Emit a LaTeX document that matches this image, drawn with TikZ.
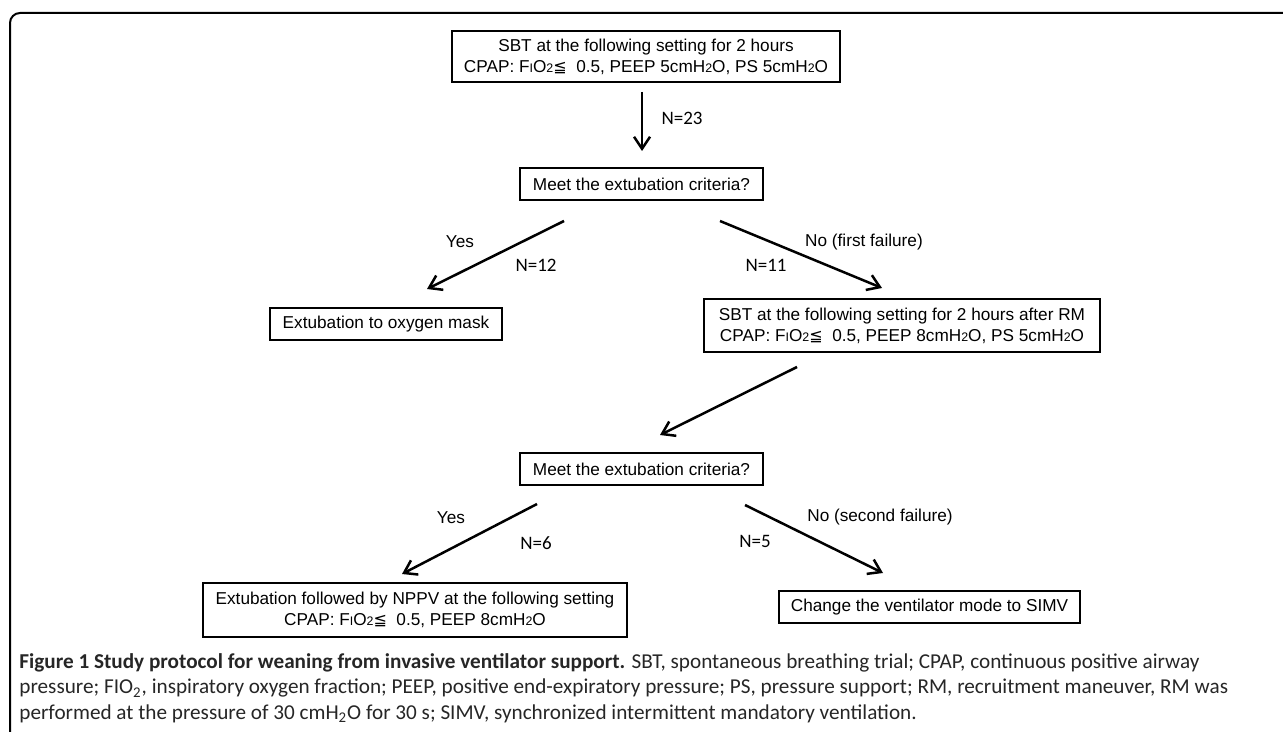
\documentclass[tikz,border=0pt]{standalone}
\usepackage{fontspec}
\setmainfont{Liberation Sans}
\newfontfamily\capfont{Carlito}
\newfontfamily\numfont{Carlito}
\newfontfamily\symfont{DejaVu Sans}
\usetikzlibrary{arrows.meta}

\newcommand{\smc}[1]{{\fontsize{6.2}{6}\selectfont #1}}
\newcommand{\fio}{F\smc{I}O\smc{2}}
\newcommand{\htwo}{H\smc{2}O}
\newcommand{\lteq}{{\symfont\fontsize{8}{8}\selectfont ≦}}

\tikzset{
  box/.style={draw, line width=1pt, inner sep=0pt, align=center,
              font=\fontsize{8.6}{10.5}\selectfont},
  arr/.style={line width=1.25pt, -{Straight Barb[length=6pt,width=8pt]}},
  lab/.style={font=\fontsize{8.6}{10}\selectfont},
  num/.style={font=\numfont\fontsize{9.5}{10}\selectfont}
}

\begin{document}
\begin{tikzpicture}[x=0.5pt,y=-0.5pt]
\useasboundingbox (0,0) rectangle (1283,732);
\draw[line width=1pt, rounded corners=5pt] (10,732) -- (10,13) -- (1283,13);

\node[box, minimum width=194pt, minimum height=25.5pt] (sbt1) at (646,56.5)
  {SBT at the following setting for 2 hours\\CPAP: \fio\lteq\ \ 0.5, PEEP 5cm\htwo, PS 5cm\htwo};
\node[box, minimum width=121.5pt, minimum height=16pt] (meet1) at (641.5,184) {Meet the extubation criteria?};
\node[box, minimum width=116pt, minimum height=16pt] (mask) at (386,324) {Extubation to oxygen mask};
\node[box, minimum width=198pt, minimum height=26.5pt] (sbt2) at (902,325.5)
  {SBT at the following setting for 2 hours after RM\\CPAP: \fio\lteq\ \ 0.5, PEEP 8cm\htwo, PS 5cm\htwo};
\node[box, minimum width=121.5pt, minimum height=16pt] (meet2) at (641.5,469) {Meet the extubation criteria?};
\node[box, minimum width=212pt, minimum height=27pt] (nppv) at (415,610)
  {Extubation followed by NPPV at the following setting\\CPAP: \fio\lteq\ \ 0.5, PEEP 8cm\htwo};
\node[box, minimum width=150.5pt, minimum height=16pt] (simv) at (929.5,607) {Change the ventilator mode to SIMV};

% arrow ends
\coordinate (a1) at (642,92);   \coordinate (b1) at (642,151);
\coordinate (a2) at (564,221);  \coordinate (b2) at (427,289);
\coordinate (a3) at (720,221);  \coordinate (b3) at (882,288);
\coordinate (a4) at (797,367);  \coordinate (b4) at (660,435);
\coordinate (a5) at (537,504);  \coordinate (b5) at (402,574);
\coordinate (a6) at (745,505);  \coordinate (b6) at (883,573);
\draw[arr] (a1) -- (b1);
\draw[arr] (a2) -- (b2);
\draw[arr] (a3) -- (b3);
\draw[arr] (a4) -- (b4);
\draw[arr] (a5) -- (b5);
\draw[arr] (a6) -- (b6);

\node[num] (n23) at (682,118) {N=23};
\node[lab] (yes1) at (460,242) {Yes};
\node[num] (n12) at (536,265) {N=12};
\node[lab] (no1) at (864,242) {No (first failure)};
\node[num] (n11) at (766,265) {N=11};
\node[lab] (yes2) at (451,518) {Yes};
\node[num] (n6) at (536,543) {N=6};
\node[lab] (no2) at (880,517) {No (second failure)};
\node[num] (n5) at (755,541) {N=5};

\node[anchor=north west, align=left, inner sep=0pt, text=black!85,
      font=\capfont\fontsize{10.6}{12.75}\selectfont] (cap) at (19,653)
  {\textbf{Figure 1 Study protocol for weaning from invasive ventilator support.} SBT, spontaneous breathing trial; CPAP, continuous positive airway\\
   pressure; FIO\textsubscript{2}, inspiratory oxygen fraction; PEEP, positive end-expiratory pressure; PS, pressure support; RM, recruitment maneuver, RM was\\
   performed at the pressure of 30 cmH\textsubscript{2}O for 30 s; SIMV, synchronized intermittent mandatory ventilation.};
\end{tikzpicture}
\end{document}
